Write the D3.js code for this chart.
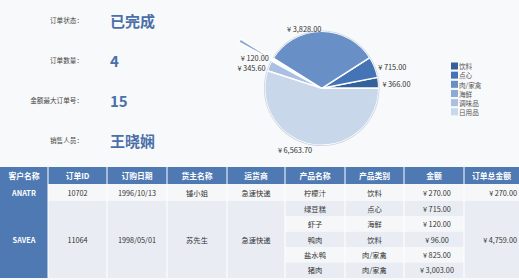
<!DOCTYPE html>
<html><head><meta charset="utf-8">
<script src="https://cdn.jsdelivr.net/npm/d3@7"></script>
<style>
html,body{margin:0;padding:0;background:#f8f9fa;}
svg{display:block;font-family:"Noto Sans CJK SC","Noto Sans",sans-serif;}
</style></head>
<body>
<svg id="c" width="519" height="280"></svg>
<script>
// ---- data ----
const infoLabels = ["订单状态：", "订单数量：", "金额最大订单号：", "销售人员："];
const infoValues = ["已完成", "4", "15", "王晓娴"];

const categories = ["饮料", "点心", "肉/家禽", "海鲜", "调味品", "日用品"];
const categoryAmounts = [366, 715, 3828, 120, 345.6, 6563.7];

const headers = ["客户名称", "订单ID", "订购日期", "货主名称", "运货商", "产品名称", "产品类别", "金额", "订单总金额"];
const orderCustomers = ["ANATR", "SAVEA"];
const orderIds = ["10702", "11064"];
const orderDates = ["1996/10/13", "1998/05/01"];
const orderConsignees = ["锺小姐", "苏先生"];
const orderShippers = ["急速快递", "急速快递"];
const orderTotals = [270, 4759];

const itemOrder = [0, 1, 1, 1, 1, 1];
const itemNames = ["柠檬汁", "绿豆糕", "虾子", "鸭肉", "盐水鸭", "猪肉"];
const itemCategories = ["饮料", "点心", "海鲜", "饮料", "肉/家禽", "肉/家禽"];
const itemAmounts = [270, 715, 120, 96, 825, 3003];

// ---- layout/style ----
const W = 519, H = 280;
const svg = d3.select("#c");
svg.append("rect").attr("width", W).attr("height", H).attr("fill", "#f8f9fa");

const money = v => "¥\u2009" + d3.format(",.2f")(v);
const valueColor = "#4a6fa9";

// ---- left info panel ----
const yInfo = d3.scalePoint().domain(d3.range(infoLabels.length)).range([20, 139.5]);
const info = svg.append("g");
info.selectAll("text.lab").data(infoLabels).join("text")
  .attr("class", "lab")
  .attr("x", 83).attr("y", (d, i) => yInfo(i))
  .attr("text-anchor", "end").attr("dominant-baseline", "central")
  .attr("font-size", 6.6).attr("fill", "#444").text(d => d);
info.selectAll("text.val").data(infoValues).join("text")
  .attr("class", "val")
  .attr("x", 110).attr("y", (d, i) => yInfo(i) + 0.5)
  .attr("dominant-baseline", "central")
  .attr("font-size", 15).attr("font-weight", "bold")
  .attr("fill", valueColor).text(d => d);

// ---- pie ----
const colors = ["#35609a", "#4474b5", "#6990c6", "#8eaad4", "#a9c0e2", "#c8d7ea"];
const color = d3.scaleOrdinal().domain(categories).range(colors);
const cx = 321.7, cy = 88.3, R = 57;
const pie = d3.pie().sort(null).value(d => d.v)
  .startAngle(Math.PI / 2).endAngle(Math.PI / 2 - 2 * Math.PI);
const arcs = pie(categories.map((c, i) => ({ c, v: categoryAmounts[i] })));
const arc = d3.arc().innerRadius(0).outerRadius(R);
const explode = { "海鲜": 38 };
const gp = svg.append("g").attr("transform", `translate(${cx},${cy})`);
gp.selectAll("path.sl").data(arcs).join("path").attr("class", "sl")
  .attr("d", arc)
  .attr("transform", d => {
    const m = (d.startAngle + d.endAngle) / 2, off = explode[d.data.c] || 0;
    return `translate(${Math.sin(m) * off},${-Math.cos(m) * off})`;
  })
  .attr("fill", d => color(d.data.c))
  .attr("stroke", "#fff").attr("stroke-width", 1.4).attr("stroke-linejoin", "round");
gp.selectAll("path.rim").data(arcs.filter(d => !explode[d.data.c])).join("path")
  .attr("class", "rim")
  .attr("d", d3.arc().innerRadius(R).outerRadius(R + 0.8))
  .attr("fill", "#b4c2d4").attr("opacity", 0.7);

// label placement with simple vertical de-overlap per side
const minGap = 9.8;
const labels = arcs.map(d => {
  const m = (d.startAngle + d.endAngle) / 2;
  return { d, x: Math.sin(m) * 61, y: -Math.cos(m) * 61 + 1.2, left: Math.sin(m) < 0 };
});
[true, false].forEach(side => {
  const grp = labels.filter(l => l.left === side).sort((a, b) => a.y - b.y);
  for (let i = 1; i < grp.length; i++) {
    const gap = grp[i].y - grp[i - 1].y;
    if (gap < minGap) { const s = (minGap - gap) / 2; grp[i - 1].y -= s; grp[i].y += s; }
  }
});
gp.selectAll("text").data(labels).join("text")
  .attr("x", l => l.x).attr("y", l => l.y)
  .attr("text-anchor", l => l.left ? "end" : "start")
  .attr("dominant-baseline", "central")
  .attr("font-size", 7.4).attr("fill", "#333")
  .text(l => money(l.d.data.v));

// ---- legend ----
const yLeg = d3.scalePoint().domain(categories).range([66, 111.8]);
const lg = svg.append("g");
lg.selectAll("rect").data(categories).join("rect")
  .attr("x", 451).attr("y", d => yLeg(d) - 3.5).attr("width", 7).attr("height", 7)
  .attr("fill", d => color(d));
lg.selectAll("text").data(categories).join("text")
  .attr("x", 459).attr("y", d => yLeg(d) + 0.3)
  .attr("dominant-baseline", "central").attr("font-size", 6.6).attr("fill", "#555")
  .text(d => d);

// ---- table ----
const colEdges = [0, 48, 107, 167, 227, 285, 345, 404, 464, 519];
const headTop = 167, headH = 17, rowH1 = 17, subH = 15.4;
const blue = "#4e79b2", dark = "#e9edf3", light = "#f6f7f9";
const tg = svg.append("g").attr("font-size", 7.3);

tg.selectAll("rect.h").data(headers).join("rect").attr("class", "h")
  .attr("x", (d, i) => colEdges[i]).attr("y", headTop)
  .attr("width", (d, i) => colEdges[i + 1] - colEdges[i]).attr("height", headH)
  .attr("fill", blue);
tg.selectAll("text.h").data(headers).join("text").attr("class", "h")
  .attr("x", (d, i) => (colEdges[i] + colEdges[i + 1]) / 2).attr("y", headTop + headH / 2)
  .attr("text-anchor", "middle").attr("dominant-baseline", "central")
  .attr("font-weight", "bold").attr("font-size", 7.8).attr("fill", "#fff").text(d => d);

const itemY = [], itemHt = [];
let y = headTop + headH;
itemOrder.forEach((o) => {
  const h = (o === 0) ? rowH1 : subH;
  itemY.push(y); itemHt.push(h); y += h;
});
const orderY = orderCustomers.map((_, o) => d3.min(itemY.filter((_, k) => itemOrder[k] === o)));
const orderH = orderCustomers.map((_, o) => d3.sum(itemHt.filter((_, k) => itemOrder[k] === o)));
const orderBg = [light, dark];

const itemBg = itemOrder.map((o, k) => o === 0 ? light : ((k - 1) % 2 === 0 ? dark : light));
[5, 6, 7].forEach(ci => {
  tg.selectAll(null).data(itemNames).join("rect")
    .attr("x", colEdges[ci]).attr("y", (d, k) => itemY[k])
    .attr("width", colEdges[ci + 1] - colEdges[ci]).attr("height", (d, k) => itemHt[k])
    .attr("fill", (d, k) => itemBg[k]);
});
const itemCols = [itemNames, itemCategories, itemAmounts.map(money)];
itemCols.forEach((vals, j) => {
  const ci = 5 + j;
  tg.selectAll(null).data(vals).join("text")
    .attr("x", (colEdges[ci] + colEdges[ci + 1]) / 2 + (j === 2 ? 3 : 0))
    .attr("y", (d, k) => itemY[k] + itemHt[k] / 2)
    .attr("text-anchor", "middle").attr("dominant-baseline", "central")
    .attr("fill", "#333").text(d => d);
});

const orderCols = [orderCustomers, orderIds, orderDates, orderConsignees, orderShippers];
const mergedCols = [0, 1, 2, 3, 4, 8];
mergedCols.forEach(ci => {
  tg.selectAll(null).data(orderCustomers).join("rect")
    .attr("x", colEdges[ci]).attr("y", (d, o) => orderY[o])
    .attr("width", colEdges[ci + 1] - colEdges[ci]).attr("height", (d, o) => orderH[o])
    .attr("fill", (d, o) => ci === 0 ? blue : orderBg[o]);
});
orderCols.forEach((vals, ci) => {
  tg.selectAll(null).data(vals).join("text")
    .attr("x", (colEdges[ci] + colEdges[ci + 1]) / 2)
    .attr("y", (d, o) => orderY[o] + orderH[o] / 2)
    .attr("text-anchor", "middle").attr("dominant-baseline", "central")
    .attr("font-weight", ci === 0 ? "bold" : "normal")
    .attr("fill", ci === 0 ? "#fff" : "#333").text(d => d);
});
tg.selectAll(null).data(orderTotals).join("text")
  .attr("x", colEdges[9] - 2)
  .attr("y", (d, o) => orderY[o] + orderH[o] / 2)
  .attr("text-anchor", "end").attr("dominant-baseline", "central")
  .attr("fill", "#333").text(d => money(d));

const tableBottom = y;
tg.selectAll("line.sep").data(colEdges.slice(1, -1)).join("line").attr("class", "sep")
  .attr("x1", d => d).attr("x2", d => d)
  .attr("y1", headTop).attr("y2", tableBottom)
  .attr("stroke", "#fff").attr("stroke-width", 1);
</script>
</body></html>
